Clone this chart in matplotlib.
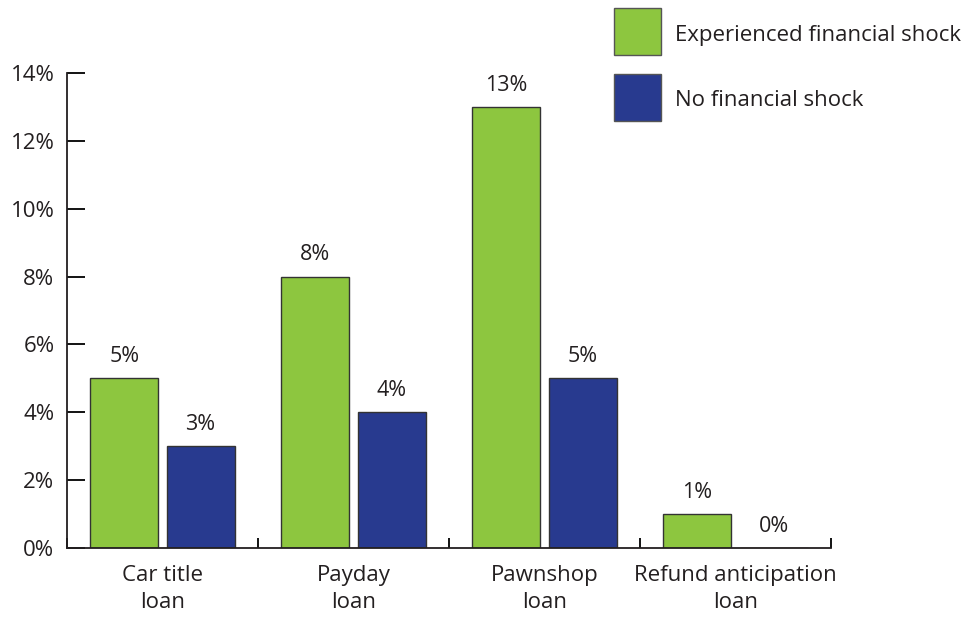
import numpy as np
import matplotlib.pyplot as plt
from matplotlib.patches import Rectangle

categories = ["Car title\nloan", "Payday\nloan", "Pawnshop\nloan", "Refund anticipation\nloan"]
shock = [5, 8, 13, 1]
no_shock = [3, 4, 5, 0]
series_names = ["Experienced financial shock", "No financial shock"]
yticks = [0, 2, 4, 6, 8, 10, 12, 14]

green = "#8DC63F"
blue = "#283A8F"
ink = "#231f20"

plt.rcParams['font.family'] = ['Open Sans', 'DejaVu Sans']

W, H = 964, 618
fig = plt.figure(figsize=(W / 100, H / 100), dpi=100)
ax = fig.add_axes([67 / W, 70 / H, 764 / W, 475 / H])

x = np.arange(len(categories))
w = 0.356
off = 0.199
b1 = ax.bar(x - off, shock, w, color=green, edgecolor="#333333", linewidth=1)
b2 = ax.bar(x + off, no_shock, w, color=blue, edgecolor="#333333", linewidth=1)

for bars, vals in ((b1, shock), (b2, no_shock)):
    for r, v in zip(bars, vals):
        ax.annotate(f"{v}%", (r.get_x() + r.get_width() / 2, v),
                    xytext=(0, 8), textcoords="offset points",
                    ha="center", va="bottom", fontsize=15.5, color=ink)

ax.set_xlim(-0.5, len(categories) - 0.5)
ax.set_ylim(0, 14)
ax.set_yticks(yticks)
ax.set_yticklabels([f"{t}%" for t in yticks], fontsize=16, color=ink)
ax.tick_params(axis="y", direction="in", length=13, width=1.3, pad=9)

# boundary ticks between groups, labels sit at group centres
ax.set_xticks(np.arange(len(categories) + 1) - 0.5)
ax.set_xticklabels([])
ax.tick_params(axis="x", which="major", direction="in", length=7, width=1.3)
ax.set_xticks(x, minor=True)
ax.set_xticklabels(categories, minor=True, fontsize=16, color=ink, linespacing=1.42)
ax.tick_params(axis="x", which="minor", length=0, pad=12)

for s in ("top", "right"):
    ax.spines[s].set_visible(False)
for s in ("left", "bottom"):
    ax.spines[s].set_linewidth(1.3)
    ax.spines[s].set_color(ink)

# legend keys drawn as plain squares in figure pixels
for i, (name, col) in enumerate(zip(series_names, [green, blue])):
    top = 8 + i * 66
    fig.add_artist(Rectangle((614 / W, 1 - (top + 47) / H), 47 / W, 47 / H,
                             transform=fig.transFigure, facecolor=col,
                             edgecolor="#555555", linewidth=1))
    fig.text(675 / W, 1 - (top + 27) / H, name, fontsize=16, color=ink,
             ha="left", va="center")

fig.savefig("out.png", dpi=100)
